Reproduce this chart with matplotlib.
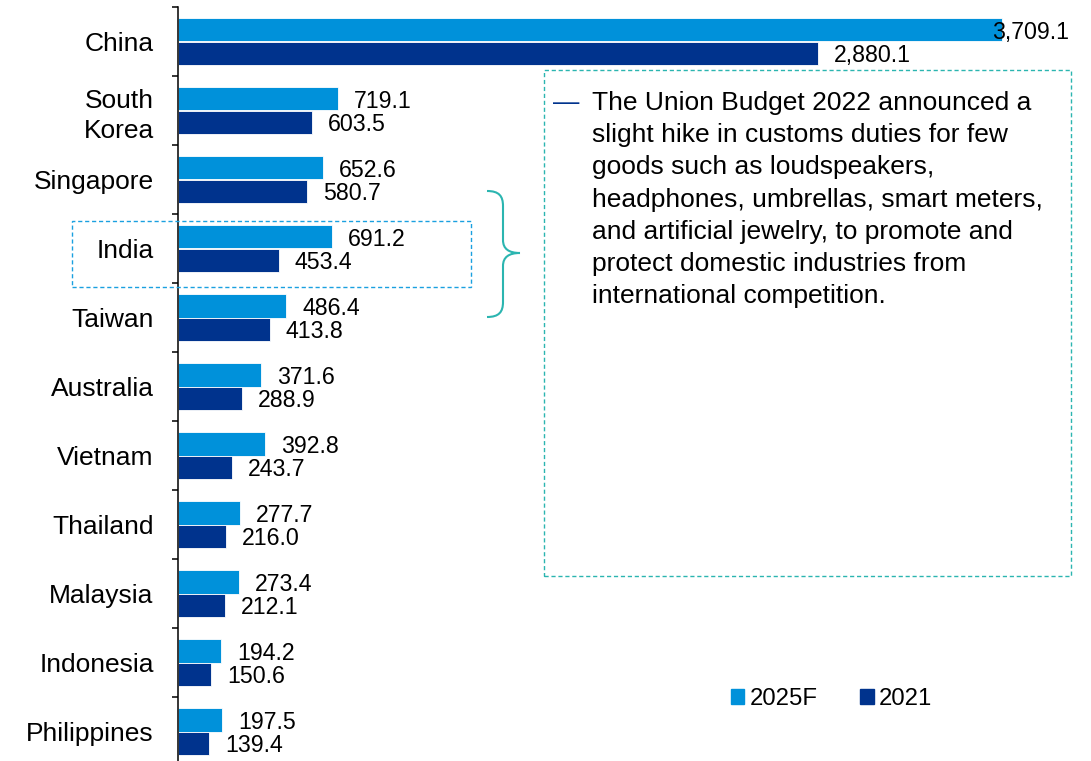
import matplotlib
matplotlib.use("Agg")
import matplotlib.pyplot as plt
import numpy as np
from matplotlib.patches import Rectangle, Patch, PathPatch
from matplotlib.path import Path

plt.rcParams['font.family'] = ['Liberation Sans', 'DejaVu Sans']

# data
countries = ['China', 'South\nKorea', 'Singapore', 'India', 'Taiwan', 'Australia',
             'Vietnam', 'Thailand', 'Malaysia', 'Indonesia', 'Philippines']
val_2025f = [3709.1, 719.1, 652.6, 691.2, 486.4, 371.6, 392.8, 277.7, 273.4, 194.2, 197.5]
val_2021 = [2880.1, 603.5, 580.7, 453.4, 413.8, 288.9, 243.7, 216.0, 212.1, 150.6, 139.4]
series = ['2025F', '2021']
note = ("The Union Budget 2022 announced a\n"
        "slight hike in customs duties for few\n"
        "goods such as loudspeakers,\n"
        "headphones, umbrellas, smart meters,\n"
        "and artificial jewelry, to promote and\n"
        "protect domestic industries from\n"
        "international competition.")

c_light = '#0091DA'
c_dark = '#00338D'
teal = '#2BB5B0'

W, H = 1091, 761


def px(x, y):
    # pixel position (from top left) -> figure fraction
    return (x / W, 1 - y / H)


fig = plt.figure(figsize=(W / 100, H / 100), dpi=100)
ax = fig.add_axes([178 / W, 1 - 766 / H, 889 / W, 759 / H])

y = np.arange(len(countries))
bh = 0.34
ax.barh(y - bh / 2, val_2025f, height=bh, color=c_light, edgecolor='white', linewidth=0.6)
ax.barh(y + bh / 2, val_2021, height=bh, color=c_dark, edgecolor='white', linewidth=0.6)
ax.set_ylim(len(countries) - 0.5, -0.5)
ax.set_xlim(0, 4000)

# value labels
for yy, v in zip(y - bh / 2, val_2025f):
    ax.text(min(v + 72, 3663), yy, f"{v:,.1f}", va='center_baseline', ha='left', fontsize=16.7)
for yy, v in zip(y + bh / 2, val_2021):
    ax.text(min(v + 72, 3663), yy, f"{v:,.1f}", va='center_baseline', ha='left', fontsize=16.7)

# ticks between groups, labels at centres
ax.set_yticks(np.arange(-0.5, len(countries)))
ax.set_yticks(y, countries, minor=True)
ax.tick_params(axis='y', which='major', length=4.3, width=1.1, labelleft=False)
ax.tick_params(axis='y', which='minor', length=0, pad=17.5, labelsize=19)
for lbl in ax.get_yticklabels(minor=True):
    lbl.set_linespacing(1.3)
ax.set_xticks([])
for s in ['top', 'right', 'bottom']:
    ax.spines[s].set_visible(False)
ax.spines['left'].set_linewidth(1.1)

# India highlight box
x0, y0 = px(72, 287)
x1, y1 = px(471, 221)
fig.add_artist(Rectangle((x0, y0), x1 - x0, y1 - y0, transform=fig.transFigure,
                         fill=False, edgecolor='#1AA0E0', linewidth=1.0, linestyle=(0, (3, 2))))

# brace
pts = [(487, 191), (499, 191), (503, 196), (503, 206),
       (503, 240), (503, 249), (509, 253), (520, 253),
       (509, 253), (503, 257), (503, 266),
       (503, 302), (503, 312), (499, 317), (487, 317)]
codes = [Path.MOVETO, Path.CURVE4, Path.CURVE4, Path.CURVE4,
         Path.LINETO, Path.CURVE4, Path.CURVE4, Path.CURVE4,
         Path.CURVE4, Path.CURVE4, Path.CURVE4,
         Path.LINETO, Path.CURVE4, Path.CURVE4, Path.CURVE4]
brace = Path([px(*p) for p in pts], codes)
fig.add_artist(PathPatch(brace, transform=fig.transFigure, fill=False,
                         edgecolor=teal, linewidth=1.5))

# note box
x0, y0 = px(544, 576)
x1, y1 = px(1071, 70)
fig.add_artist(Rectangle((x0, y0), x1 - x0, y1 - y0, transform=fig.transFigure,
                         fill=False, edgecolor=teal, linewidth=1.0, linestyle=(0, (3, 2))))
fig.text(*px(553, 91), '\u2014', color=c_dark, fontsize=19, va='top', ha='left')
fig.text(*px(592, 91), note, fontsize=19, va='top', ha='left', linespacing=1.43)

# legend
handles = [Patch(color=c_light, label=series[0]), Patch(color=c_dark, label=series[1])]
fig.legend(handles=handles, loc='center left', bbox_to_anchor=px(731, 699), ncol=2,
           frameon=False, fontsize=17.2, handlelength=0.55, handleheight=0.55,
           handletextpad=0.22, columnspacing=1.8, borderpad=0, borderaxespad=0)

fig.savefig('out.png', dpi=100)
